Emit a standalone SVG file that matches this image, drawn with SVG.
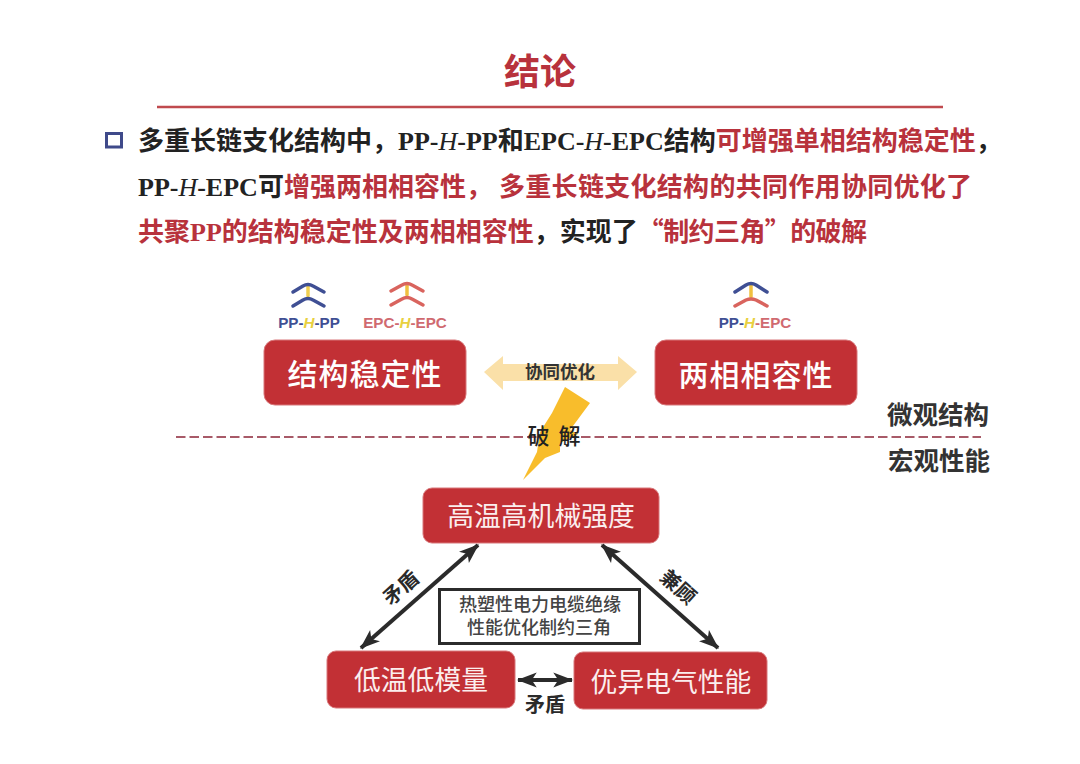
<svg xmlns="http://www.w3.org/2000/svg" width="1080" height="764" viewBox="0 0 1080 764">
<style>
text{font-family:"Noto Sans CJK SC","Liberation Sans",sans-serif}
.body{font-size:26px;font-weight:700;fill:#222}
.r{fill:#b8323c}
.rom{font-family:"Liberation Serif","Noto Sans CJK SC",serif}
.box{fill:#c23035;stroke:#d8777a;stroke-width:1}
.big{font-size:30px;font-weight:500;fill:#fff;text-anchor:middle;letter-spacing:1px}
.mid{font-size:26.800px;font-weight:400;fill:#fbeeee;text-anchor:middle}
.lab{font-size:15.200px;font-weight:700;font-family:"Liberation Sans",sans-serif;text-anchor:middle}
.blk{font-size:20px;font-weight:700;fill:#2a2a2a;text-anchor:middle}
text.note{font-family:"Liberation Sans","Noto Sans CJK SC",sans-serif;font-size:18px;font-weight:500;fill:#444;text-anchor:middle}
.side{font-size:25.500px;font-weight:700;fill:#333;text-anchor:middle}
.arrow{stroke:#2b2b2b;stroke-width:4;fill:none;marker-start:url(#ah);marker-end:url(#ah)}
.ic{fill:none;stroke-width:3.500;stroke-linecap:round;stroke-linejoin:round}
</style>
<defs>
<marker id="ah" viewBox="0 0 16 12" refX="15" refY="6" markerWidth="5" markerHeight="3.800" orient="auto-start-reverse" markerUnits="strokeWidth">
<path d="M0 0L16 6L0 12L4 6Z" fill="#2b2b2b"/>
</marker>
</defs>
<rect width="1080" height="764" fill="#fff"/>
<text x="540" y="85" font-size="36" font-weight="700" fill="#b8323c" text-anchor="middle">结论</text>
<line x1="157" y1="107" x2="943" y2="107" stroke="#c04a4e" stroke-width="2.500"/>
<rect x="106.500" y="133.500" width="15" height="13.500" fill="none" stroke="#3f4a8a" stroke-width="3"/>
<text class="body" x="138" y="150">多重长链支化结构中，<tspan class="rom">PP-<tspan font-style="italic" font-weight="400">H</tspan>-PP</tspan>和<tspan class="rom">EPC-<tspan font-style="italic" font-weight="400">H</tspan>-EPC</tspan>结构<tspan class="r">可增强单相结构稳定性</tspan>，</text>
<text class="body" x="138" y="196"><tspan class="rom">PP-<tspan font-style="italic" font-weight="400">H</tspan>-EPC</tspan>可<tspan class="r">增强两相相容性，</tspan><tspan class="r" x="499" letter-spacing="0.3">多重长链支化结构的共同作用协同优化了</tspan></text>
<text class="body" x="138" y="241"><tspan class="r">共聚<tspan class="rom">PP</tspan>的结构稳定性及两相相容性</tspan>，实现了<tspan class="r" letter-spacing="-0.6">“制约三角”的破解</tspan></text>

<g id="icon-pp-h-pp">
<line class="ic" x1="308" y1="286" x2="308" y2="296" stroke="#f0cf50"/>
<path class="ic" d="M293 292L303 286Q308 283 313 286L324 292" stroke="#3f4f94"/>
<path class="ic" d="M293 306L303 300Q308 297 313 300L324 306" stroke="#3f4f94"/>
<text class="lab" x="309" y="328" fill="#3f4f94">PP-<tspan fill="#e8d040" font-style="italic">H</tspan>-PP</text>
</g>
<g id="icon-epc-h-epc">
<line class="ic" x1="407" y1="285" x2="407" y2="295" stroke="#f0c040"/>
<path class="ic" d="M391 291L402 285Q407 282 412 285L423 291" stroke="#d9645e"/>
<path class="ic" d="M391 305L402 299Q407 296 412 299L423 305" stroke="#d9645e"/>
<text class="lab" x="405" y="328" fill="#d06a70">EPC-<tspan fill="#e8d040" font-style="italic">H</tspan>-EPC</text>
</g>
<g id="icon-pp-h-epc">
<line class="ic" x1="751" y1="285" x2="751" y2="297" stroke="#f0c040"/>
<path class="ic" d="M735 292L746 285Q751 282 756 285L767 292" stroke="#3f4f94"/>
<path class="ic" d="M735 306L746 300Q751 298 756 300L767 306" stroke="#d9645e"/>
<text class="lab" x="755" y="328" fill="#3f4f94">PP-<tspan fill="#e8d040" font-style="italic">H</tspan><tspan fill="#d06a70">-EPC</tspan></text>
</g>

<g id="node-structure"><rect class="box" x="264" y="340" width="202" height="65" rx="11"/><text class="big" x="365" y="385">结构稳定性</text></g>
<g id="node-compat"><rect class="box" x="655" y="340" width="202" height="65" rx="11"/><text class="big" x="756" y="386">两相相容性</text></g>

<g id="synergy"><path d="M484 372L503 356V364H618V356L637 372L618 390V381H503V390Z" fill="#fae0a8"/>
<text x="560" y="378" font-size="17.500" font-weight="700" fill="#333" text-anchor="middle">协同优化</text></g>

<line x1="176" y1="437" x2="981" y2="437" stroke="#a85a68" stroke-width="2" stroke-dasharray="9.500 4"/>
<g id="bolt"><path d="M565 387L590 403L570 430L578 434L560 443L560 452L545 458L523 480L537 452L540 432L552 413Z" fill="#f8bd2c"/>
<text x="554" y="444" font-size="22" font-weight="500" fill="#222" text-anchor="middle" word-spacing="4">破 解</text></g>
<text class="side" x="938" y="424">微观结构</text>
<text class="side" x="939" y="470">宏观性能</text>

<g id="connectors">
<line class="arrow" x1="478" y1="545" x2="361" y2="648"/>
<line class="arrow" x1="602" y1="545" x2="718" y2="648"/>
<line class="arrow" x1="518" y1="680" x2="572" y2="680"/>
</g>

<g id="node-top"><rect class="box" x="423" y="488" width="236" height="55" rx="9"/><text class="mid" x="541" y="526">高温高机械强度</text></g>
<g id="node-left"><rect class="box" x="327" y="651" width="188" height="57" rx="9"/><text class="mid" x="421" y="690">低温低模量</text></g>
<g id="node-right"><rect class="box" x="574" y="652" width="193" height="57" rx="9"/><text class="mid" x="671" y="692">优异电气性能</text></g>

<g id="triangle-note"><rect x="439.500" y="589.500" width="200" height="54" fill="#fff" stroke="#2b2b2b" stroke-width="3"/>
<text class="note" x="540" y="611">热塑性电力电缆绝缘</text>
<text class="note" x="539" y="634">性能优化制约三角</text></g>

<text class="blk" transform="translate(401 588) rotate(-42)" y="7">矛盾</text>
<text class="blk" transform="translate(678 587) rotate(42)" y="7">兼顾</text>
<text class="blk" x="545" y="712">矛盾</text>
</svg>
